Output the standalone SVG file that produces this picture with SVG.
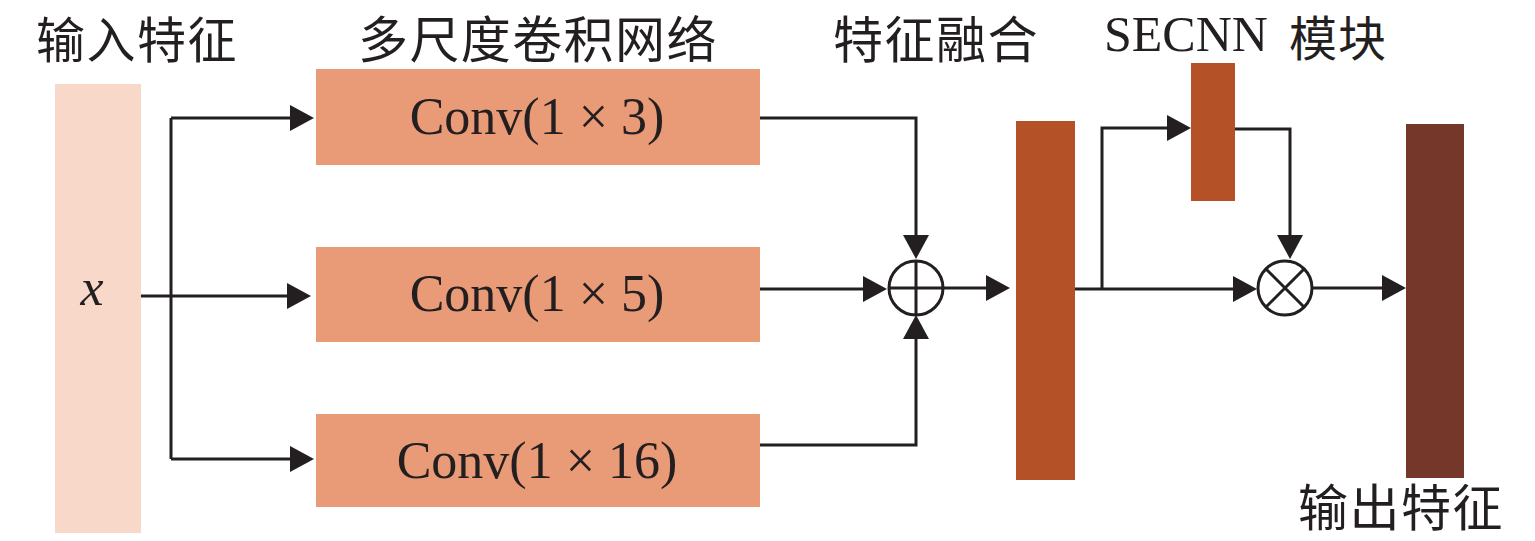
<svg xmlns="http://www.w3.org/2000/svg" width="1535" height="541" viewBox="0 0 1535 541">
<style>
.cjk{font-family:"Noto Sans CJK SC","Noto Sans CJK JP",sans-serif;fill:#231F20}
.ser{font-family:"Liberation Serif","Times New Roman",serif;fill:#231F20}
.ln{fill:none;stroke:#231F20;stroke-width:3}
.arr{marker-end:url(#ah)}
.conv{fill:#E99A76}
.dark{fill:#B55127}
</style>
<defs>
<marker id="ah" markerUnits="userSpaceOnUse" markerWidth="24" markerHeight="26" refX="20" refY="13" orient="auto">
<path d="M0,0 L24,13 L0,26 z" fill="#231F20"/>
</marker>
</defs>
<rect width="1535" height="541" fill="#ffffff"/>

<g id="labels">
<text class="cjk" x="36" y="58" font-size="49" letter-spacing="1.5">输入特征</text>
<text class="cjk" x="358" y="58" font-size="50" letter-spacing="1.4">多尺度卷积网络</text>
<text class="cjk" x="833" y="58" font-size="50" letter-spacing="1.5">特征融合</text>
<text class="ser" x="1104" y="51" font-size="50">SECNN</text>
<text class="cjk" x="1289" y="56" font-size="48" letter-spacing="1">模块</text>
<text class="cjk" x="1298" y="526" font-size="50" letter-spacing="1.5">输出特征</text>
</g>

<g id="input">
<rect x="55" y="84" width="86" height="449" fill="#F7D8C9"/>
<text class="ser" x="92" y="305" font-size="52" font-style="italic" text-anchor="middle">x</text>
</g>

<g id="conv3">
<rect class="conv" x="316" y="69" width="444" height="96"/>
<text class="ser" x="537" y="134" font-size="52" text-anchor="middle">Conv(1 × 3)</text>
</g>
<g id="conv5">
<rect class="conv" x="316" y="247" width="444" height="95"/>
<text class="ser" x="537" y="311" font-size="52" text-anchor="middle">Conv(1 × 5)</text>
</g>
<g id="conv16">
<rect class="conv" x="316" y="414" width="444" height="93"/>
<text class="ser" x="537" y="478" font-size="52" text-anchor="middle">Conv(1 × 16)</text>
</g>

<g id="add">
<circle cx="916" cy="288" r="27" fill="#ffffff" stroke="#231F20" stroke-width="3"/>
<path class="ln" d="M889,288 H943 M916,261 V315"/>
</g>

<g id="fusion">
<rect class="dark" x="1016" y="121" width="59" height="359"/>
</g>

<g id="secnn">
<rect class="dark" x="1191" y="63" width="44" height="138"/>
</g>

<g id="mul">
<circle cx="1285" cy="288" r="27" fill="#ffffff" stroke="#231F20" stroke-width="3"/>
<path class="ln" d="M1266,269 L1304,307 M1304,269 L1266,307"/>
</g>

<g id="output">
<rect x="1406" y="124" width="58" height="354" fill="#74372A"/>
</g>

<g id="connectors">
<path class="ln arr" d="M141,296 H307"/>
<path class="ln" d="M171,118 V459"/>
<path class="ln arr" d="M171,118 H310"/>
<path class="ln arr" d="M171,459 H310"/>
<path class="ln arr" d="M760,118 H916 V255"/>
<path class="ln arr" d="M760,289 H883"/>
<path class="ln arr" d="M760,445 H916 V319"/>
<path class="ln arr" d="M943,288 H1006"/>
<path class="ln arr" d="M1075,289 H1253"/>
<path class="ln arr" d="M1102,289 V128 H1187"/>
<path class="ln arr" d="M1235,129 H1290 V255"/>
<path class="ln arr" d="M1312,288 H1402"/>
</g>
</svg>
